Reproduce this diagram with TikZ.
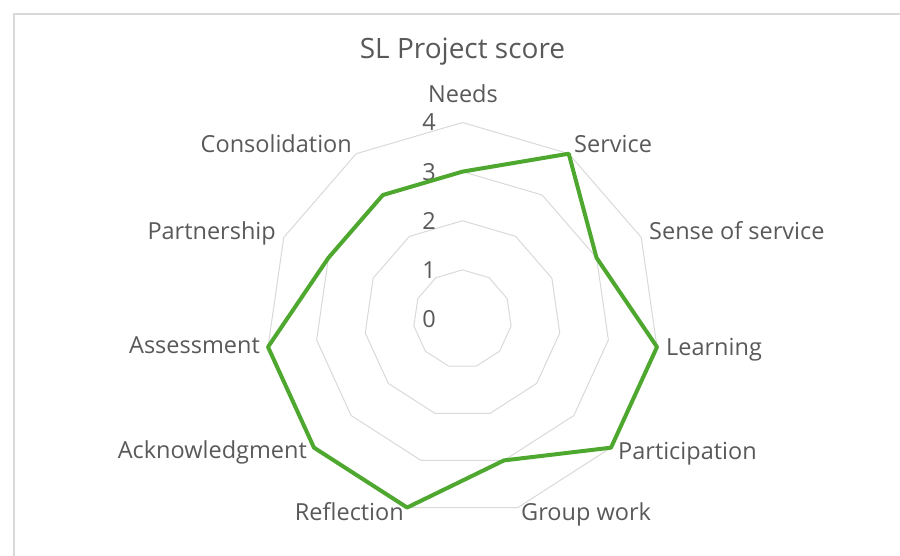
\documentclass[tikz,border=0pt]{standalone}
\usepackage{fontspec}
\setmainfont{Open Sans}
\begin{document}
\begin{tikzpicture}[x=1pt,y=-1pt]
  \definecolor{gridline}{HTML}{D9D9D9}
  \definecolor{labeltext}{HTML}{595959}
  \definecolor{scoreline}{HTML}{4EA72E}
  \tikzset{
    axislabel/.style={text=labeltext,inner sep=0pt,font=\fontsize{23.5}{24}\selectfont},
    ring/.style={gridline,line width=1pt}
  }
  \useasboundingbox (0,0) rectangle (900,556);
  \draw [gridline,line width=1.2pt] (14,14) rectangle (930,590);
  \node [axislabel,anchor=base,font=\fontsize{28}{29}\selectfont] (title) at (462.5,58.3) {SL Project score};
  \begin{scope}[shift={(462.5,319)}]
    \foreach \r in {1,...,4}
      \draw [ring] (-90:49.125*\r) \foreach \i in {1,...,10} { -- ({-90+\i*360/11}:49.125*\r) } -- cycle;
    \foreach \v in {0,...,4}
      \node [axislabel] (val\v) at (-33.5,-49.125*\v) {\v};
    \foreach \s [count=\i from 0] in {3,4,3,4,4,3,4,4,4,3,3}
      \coordinate (s\i) at ({-90+\i*360/11}:49.125*\s);
    \draw [scoreline,line width=4pt,line join=round]
      (s0) -- (s1) -- (s2) -- (s3) -- (s4) -- (s5) -- (s6) -- (s7) -- (s8) -- (s9) -- (s10) -- cycle;
  \end{scope}
  \node [axislabel,anchor=base] (needs) at (463,103) {Needs};
  \node [axislabel,anchor=base west] (service) at (574,152.7) {Service};
  \node [axislabel,anchor=base west] (sense) at (649,240) {Sense of service};
  \node [axislabel,anchor=base west] (learning) at (666,355) {Learning};
  \node [axislabel,anchor=base west] (participation) at (618,459) {Participation};
  \node [axislabel,anchor=base west] (groupwork) at (521,520.5) {Group work};
  \node [axislabel,anchor=base east] (reflection) at (404,520) {Reflection};
  \node [axislabel,anchor=base east] (acknowledgment) at (307,458) {Acknowledgment};
  \node [axislabel,anchor=base east] (assessment) at (260,353.3) {Assessment};
  \node [axislabel,anchor=base east] (partnership) at (276,240) {Partnership};
  \node [axislabel,anchor=base east] (consolidation) at (352,152.7) {Consolidation};
\end{tikzpicture}
\end{document}
